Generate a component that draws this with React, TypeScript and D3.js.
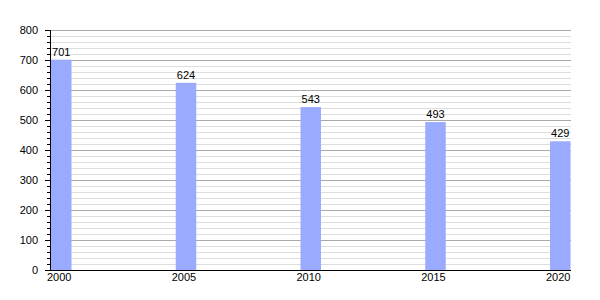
import React from "react";
import * as d3 from "d3";

const years = [2000, 2005, 2010, 2015, 2020];
const values = [701, 624, 543, 493, 429];
const majorTicks = [0, 100, 200, 300, 400, 500, 600, 700, 800];

export default function App() {
  const W = 600, H = 300;
  const x = d3.scaleLinear().domain([2000, 2020]).range([51, 550]);
  const y = d3.scaleLinear().domain([0, 800]).range([270, 30]);
  const barW = 20.5;
  const minor = d3.range(0, 801, 20).filter((v) => v % 100 !== 0);
  const font = "'Liberation Sans', Arial, sans-serif";
  return (
    <svg width={W} height={H} style={{ position: "absolute", left: 0, top: 0 }}>
      <rect width={W} height={H} fill="#fff" />
      {minor.map((v) => (
        <line key={"m" + v} x1={50} x2={571} y1={Math.round(y(v)) + 0.5} y2={Math.round(y(v)) + 0.5} stroke="#dddddd" strokeWidth={1} />
      ))}
      {majorTicks.map((v) => (
        <line key={"M" + v} x1={50} x2={571} y1={Math.round(y(v)) + 0.5} y2={Math.round(y(v)) + 0.5} stroke="#aaaaaa" strokeWidth={1} />
      ))}
      {years.map((yr, i) => (
        <rect key={yr} x={x(yr)} y={y(values[i])} width={barW} height={y(0) - y(values[i])} fill="#99aaff" />
      ))}
      {years.map((yr, i) => (
        <text key={"v" + yr} x={x(yr) + barW / 2} y={y(values[i]) - 4} textAnchor="middle" fontFamily={font} fontSize={11} fill="#000">
          {values[i]}
        </text>
      ))}
      <line x1={50.5} x2={50.5} y1={30} y2={271} stroke="#000" />
      <line x1={45} x2={571} y1={270.5} y2={270.5} stroke="#000" />
      {minor.map((v) => (
        <line key={"mt" + v} x1={47} x2={51} y1={Math.round(y(v)) + 0.5} y2={Math.round(y(v)) + 0.5} stroke="#000" />
      ))}
      {majorTicks.map((v) => (
        <g key={"t" + v}>
          <line x1={45} x2={51} y1={Math.round(y(v)) + 0.5} y2={Math.round(y(v)) + 0.5} stroke="#000" />
          <text x={38} y={y(v) + 4} textAnchor="end" fontFamily={font} fontSize={11} fill="#000">
            {v}
          </text>
        </g>
      ))}
      {years.map((yr) => (
        <text key={"x" + yr} x={x(yr) + barW / 2 - 2} y={281} textAnchor="middle" fontFamily={font} fontSize={11} fill="#000">
          {yr}
        </text>
      ))}
    </svg>
  );
}
